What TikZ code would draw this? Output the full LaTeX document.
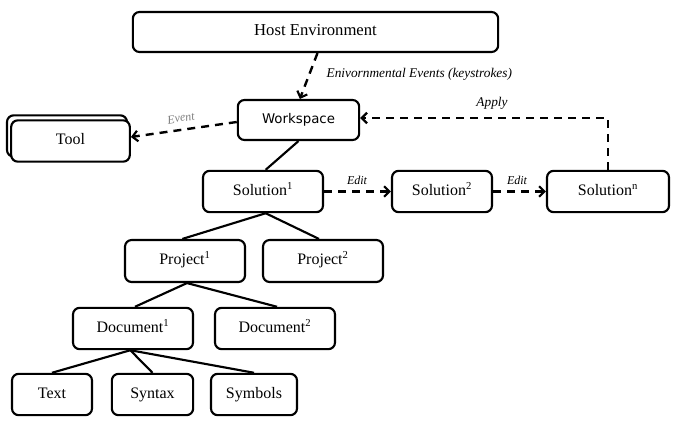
\documentclass[tikz,border=0pt]{standalone}
\usepackage{fontspec}
\setmainfont{Liberation Serif}
\newfontfamily\wsfont{DejaVu Sans}
\usetikzlibrary{arrows.meta}
\begin{document}
\begin{tikzpicture}[x=0.75pt,y=-0.75pt,
  box/.style={draw=black,line width=1.6pt,rounded corners=5pt,fill=white,inner sep=0pt,text height=8pt,text depth=2.5pt,font=\fontsize{12}{14}\selectfont},
  tree/.style={line width=1.6pt},
  dashline/.style={line width=1.8pt,dash pattern=on 6pt off 4.5pt,-{Straight Barb[length=4pt,width=8pt,line width=1.6pt]}},
  lab/.style={font=\itshape\fontsize{9}{10}\selectfont,inner sep=1pt}]
\useasboundingbox (0,0) rectangle (680,428);
% boxes
\node[box,minimum width=274pt,minimum height=30pt,font=\fontsize{12.5}{14}\selectfont] (host) at (315.5,32) {Host Environment};
\node[box,minimum width=91pt,minimum height=30pt,font=\wsfont\fontsize{10}{12}\selectfont] (ws) at (298.5,120) {Workspace};
\node[box,minimum width=90pt,minimum height=31pt] (toolback) at (67,136) {};
\node[box,minimum width=89pt,minimum height=31pt] (tool) at (70.5,141) {Tool};
\node[box,minimum width=90pt,minimum height=31pt] (sol1) at (263,191.5) {Solution\textsuperscript{1}};
\node[box,minimum width=75pt,minimum height=31pt] (sol2) at (442,191.5) {Solution\textsuperscript{2}};
\node[box,minimum width=91.5pt,minimum height=31pt] (soln) at (608,191.5) {Solution\textsuperscript{n}};
\node[box,minimum width=90pt,minimum height=31.5pt] (proj1) at (185,261) {Project\textsuperscript{1}};
\node[box,minimum width=90pt,minimum height=31.5pt] (proj2) at (323,261) {Project\textsuperscript{2}};
\node[box,minimum width=90pt,minimum height=31pt] (doc1) at (133,328.5) {Document\textsuperscript{1}};
\node[box,minimum width=90pt,minimum height=31pt] (doc2) at (275,328.5) {Document\textsuperscript{2}};
\node[box,minimum width=60pt,minimum height=31pt] (text) at (52,394.5) {Text};
\node[box,minimum width=61pt,minimum height=31pt] (syntax) at (152.5,394.5) {Syntax};
\node[box,minimum width=64.5pt,minimum height=31pt] (symbols) at (254,394.5) {Symbols};
% tree lines
\draw[tree] (ws.south) -- ([xshift=2pt]sol1.north);
\draw[tree] ([xshift=2pt]sol1.south) -- ([xshift=-2pt]proj1.north);
\draw[tree] ([xshift=2pt]sol1.south) -- ([xshift=-3pt]proj2.north);
\draw[tree] ([xshift=1.5pt]proj1.south) -- ([xshift=1.5pt]doc1.north);
\draw[tree] ([xshift=1.5pt]proj1.south) -- ([xshift=1.5pt]doc2.north);
\draw[tree] ([xshift=-2pt]doc1.south) -- (text.north);
\draw[tree] ([xshift=-2pt]doc1.south) -- (syntax.north);
\draw[tree] ([xshift=-2pt]doc1.south) -- (symbols.north);
% dashed arrows
\draw[dashline] ([xshift=1.5pt]host.south) -- ([xshift=1pt]ws.north);
\node[lab,anchor=west,font=\itshape\fontsize{10}{11}\selectfont] (envlab) at (325,74) {Enivornmental Events (keystrokes)};
\draw[dashline] ([yshift=-1.5pt]ws.west) -- ([yshift=3pt]tool.east);
\node[lab,text=gray,rotate=10] (evlab) at (181,118) {Event};
\draw[dashline] (sol1.east) -- (sol2.west);
\node[lab] (edit1) at (357,180) {Edit};
\draw[dashline] (sol2.east) -- (soln.west);
\node[lab] (edit2) at (517,180) {Edit};
\draw[dashline] (soln.north) |- ([yshift=1.5pt]ws.east);
\node[lab,font=\itshape\fontsize{10}{11}\selectfont] (applab) at (492,103) {Apply};
\end{tikzpicture}
\end{document}
